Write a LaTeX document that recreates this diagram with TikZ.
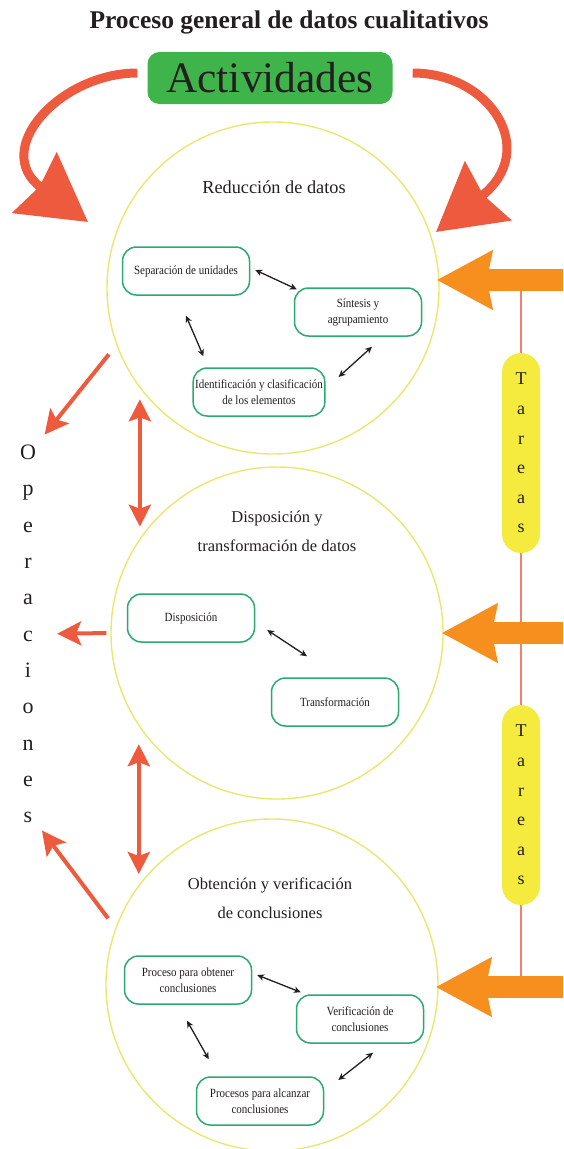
\documentclass[tikz,border=0pt]{standalone}
\usepackage{fontspec}
\setmainfont{Liberation Serif}
\newfontfamily\boxfont[FakeStretch=0.88]{Liberation Serif}
\usetikzlibrary{arrows.meta}

\definecolor{actgreen}{RGB}{62,180,74}
\definecolor{ringyellow}{RGB}{232,232,112}
\definecolor{boxgreen}{RGB}{42,170,112}
\definecolor{opred}{RGB}{238,90,62}
\definecolor{taskorange}{RGB}{246,143,30}
\definecolor{linesalmon}{RGB}{240,130,115}
\definecolor{pillyellow}{RGB}{245,235,62}
\definecolor{inkgray}{RGB}{35,31,32}

\tikzset{
  ring/.style={circle, draw=ringyellow, line width=1.4pt, minimum size=332pt, inner sep=0pt},
  stage/.style={text=inkgray, align=center, font=\fontsize{16.5}{29}\selectfont},
  subbox/.style={draw=boxgreen, line width=1.5pt, rounded corners=14pt, fill=white,
    minimum width=127pt, minimum height=48pt, align=center, text=inkgray,
    inner sep=2pt, font=\boxfont\fontsize{12.5}{16}\selectfont},
  link/.style={{Stealth[length=7pt,width=6.5pt]}-{Stealth[length=7pt,width=6.5pt]},
    line width=1.3pt, draw=inkgray},
  oparrow/.style={-{Stealth[length=24pt,width=24pt,inset=5pt]}, line width=4pt, draw=opred},
  bothred/.style={{Stealth[length=22pt,width=22pt,inset=4pt]}-{Stealth[length=22pt,width=22pt,inset=4pt]},
    line width=4pt, draw=opred},
  bigred/.style={-{Stealth[length=66pt,width=74pt,inset=6pt]}, line width=9pt, draw=opred},
  taskarrow/.style={-{Stealth[length=55pt,width=57pt,inset=5pt]}, line width=22pt, draw=taskorange},
  pill/.style={fill=pillyellow, rounded corners=19pt, minimum width=38pt, minimum height=200pt,
    inner sep=0pt, align=center, text=inkgray, font=\fontsize{18}{29.6}\selectfont},
}

\begin{document}
\begin{tikzpicture}[x=1pt, y=-1pt]
      \useasboundingbox (0,0) rectangle (563,1149);

      \node[text=inkgray, font=\bfseries\fontsize{25.5}{28}\selectfont] (title) at (289,22) {Proceso general de datos cualitativos};
      \node[fill=actgreen, rounded corners=12pt, minimum width=245pt, minimum height=52pt,
        inner sep=0pt, text=inkgray, font=\fontsize{43.5}{45}\selectfont] (act) at (270,78) {Actividades};

      \node[ring] (c1) at (273,288) {};
      \node[ring] (c2) at (277,633) {};
      \node[ring] (c3) at (272,985) {};

      \node[stage, font=\fontsize{18.3}{29}\selectfont] (t1) at (274,187) {Reducción de datos};
      \node[stage] (t2) at (277,531) {Disposición y\\transformación de datos};
      \node[stage] (t3) at (270,898) {Obtención y verificación\\de conclusiones};

      \node[subbox] (sep) at (186,271) {Separación de unidades};
      \node[subbox] (sin) at (358,312) {Síntesis y\\agrupamiento};
      \node[subbox] (ident) at (259,392) {Identificación y clasificación\\de los elementos};

      \node[subbox] (disp) at (191,618) {Disposición};
      \node[subbox] (trans) at (335,702) {Transformación};

      \node[subbox] (obt) at (188,980) {Proceso para obtener\\conclusiones};
      \node[subbox] (verif) at (360,1019) {Verificación de\\conclusiones};
      \node[subbox] (alc) at (260,1101) {Procesos para alcanzar\\conclusiones};

      \draw[link] ([shift={(5pt,1pt)}]sep.east) -- ([shift={(3pt,-2pt)}]sin.north west);
      \draw[link] ([yshift=-20pt]sep.south) -- ([shift={(11pt,11pt)}]ident.north west);
      \draw[link] ([shift={(14pt,-10pt)}]sin.south) -- ([shift={(13pt,15pt)}]ident.east);
      \draw[link] ([shift={(12pt,-12pt)}]disp.east) -- ([shift={(-28pt,21pt)}]trans.north);
      \draw[link] ([shift={(5pt,5pt)}]obt.east) -- ([shift={(5pt,2pt)}]verif.north west);
      \draw[link] ([shift={(-1pt,-16pt)}]obt.south) -- ([shift={(13pt,17pt)}]alc.north west);
      \draw[link] ([shift={(13pt,-9pt)}]verif.south) -- ([shift={(14pt,21pt)}]alc.east);

      \node[inner sep=1pt, align=center, text=inkgray, font=\fontsize{22}{36.3}\selectfont] (ops) at (28,634)
        {O\\p\\e\\r\\a\\c\\i\\o\\n\\e\\s};

      \draw[bothred, shorten <=11pt, shorten >=6pt] (c1.217) -- (c1.217 |- c2.143);
      \draw[bothred, shorten <=18pt, shorten >=13pt] (c2.214) -- (c2.214 |- c3.144);
      \draw[oparrow, shorten <=12pt, shorten >=12pt] (c1.200) -- (ops.north east);
      \draw[oparrow, shorten <=4pt, shorten >=20pt] (c2.west) -- (ops.east);
      \draw[oparrow, shorten <=12pt, shorten >=8pt] (c3.160) -- (ops.south east);

      \coordinate (lt) at (88,222);
      \coordinate (rt) at (436,232);
      \draw[bigred] ([shift={(-10pt,5pt)}]act.west) .. controls (60,73) and (-10,150) .. (lt);
      \draw[bigred] ([shift={(20pt,5pt)}]act.east) .. controls (490,73) and (540,150) .. (rt);

      \coordinate (r1) at (563,280);
      \coordinate (r2) at (563,633);
      \coordinate (r3) at (563,987);
      \node[pill] (tar1) at (521,453) {T\\a\\r\\e\\a\\s};
      \node[pill] (tar2) at (521,805) {T\\a\\r\\e\\a\\s};
      \draw[linesalmon, line width=2.5pt] (r1 -| tar1) -- (tar1.north);
      \draw[linesalmon, line width=2.5pt] (tar1.south) -- (tar2.north);
      \draw[linesalmon, line width=2.5pt] (tar2.south) -- (r3 -| tar2);

      \draw[taskarrow, shorten >=-3pt] (r1) -- (r1 -| c1.east);
      \draw[taskarrow, shorten >=-2pt] (r2) -- (r2 -| c2.east);
      \draw[taskarrow, shorten >=-3pt] (r3) -- (r3 -| c3.east);
\end{tikzpicture}
\end{document}
